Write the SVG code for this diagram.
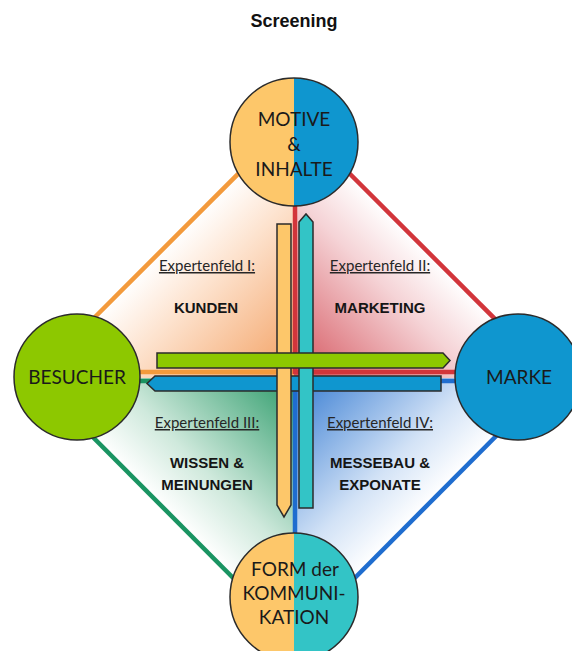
<svg xmlns="http://www.w3.org/2000/svg" width="572" height="651" viewBox="0 0 572 651">
  <style>
    .title { font-family: "Liberation Sans", Arial, sans-serif; font-weight: bold; font-size: 18px; fill: #111; }
    .node { font-family: Lato, "Liberation Sans", sans-serif; font-size: 19px; fill: #1a1a1a; text-anchor: middle; }
    .field { font-family: Lato, "Liberation Sans", sans-serif; font-size: 15px; fill: #262626; text-anchor: middle; text-decoration: underline; }
    .topic { font-family: "Liberation Sans", Arial, sans-serif; font-weight: bold; font-size: 15px; fill: #151515; text-anchor: middle; }
    .ring { fill: none; stroke: #2b2b2b; stroke-width: 1.5; }
    .green-disc { fill: #8dc800; }
    .blue-disc { fill: #0f96cf; }
    .bar { stroke: #2b2b2b; stroke-width: 1.5; stroke-linejoin: miter; }
    .edge { fill: none; stroke-width: 4.5; stroke-linecap: butt; }
  </style>
  <defs>
    <linearGradient id="gOrange" gradientUnits="userSpaceOnUse" x1="164" y1="248" x2="294" y2="378">
      <stop offset="0" stop-color="#ffffff"/>
      <stop offset="0.3" stop-color="#fde3cf"/>
      <stop offset="1" stop-color="#f39f60"/>
    </linearGradient>
    <linearGradient id="gRed" gradientUnits="userSpaceOnUse" x1="424" y1="248" x2="294" y2="378">
      <stop offset="0" stop-color="#ffffff"/>
      <stop offset="0.3" stop-color="#f5d3d6"/>
      <stop offset="1" stop-color="#d4525b"/>
    </linearGradient>
    <linearGradient id="gGreen" gradientUnits="userSpaceOnUse" x1="164" y1="508" x2="294" y2="378">
      <stop offset="0" stop-color="#ffffff"/>
      <stop offset="0.3" stop-color="#cfe9dc"/>
      <stop offset="1" stop-color="#2a9a68"/>
    </linearGradient>
    <linearGradient id="gBlue" gradientUnits="userSpaceOnUse" x1="424" y1="508" x2="294" y2="378">
      <stop offset="0" stop-color="#ffffff"/>
      <stop offset="0.3" stop-color="#d2e2f6"/>
      <stop offset="1" stop-color="#357bd2"/>
    </linearGradient>
  </defs>

  <rect width="572" height="651" fill="#ffffff"/>

  <text class="title" x="294" y="27" text-anchor="middle">Screening</text>

  <!-- quadrant fields -->
  <g id="quadrants">
    <polygon points="294,118 34,378 294,378" fill="url(#gOrange)"/>
    <polygon points="294,118 554,378 294,378" fill="url(#gRed)"/>
    <polygon points="34,378 294,639 294,378" fill="url(#gGreen)"/>
    <polygon points="554,378 294,639 294,378" fill="url(#gBlue)"/>
  </g>

  <!-- connectors: coloured borders of the four fields and the arrows -->
  <g id="connectors">
    <line class="edge" x1="294" y1="118" x2="34" y2="378" stroke="#f39a3c"/>
    <line class="edge" x1="294" y1="118" x2="554" y2="378" stroke="#d2353b"/>
    <line class="edge" x1="34" y1="378" x2="294" y2="639" stroke="#1a9462"/>
    <line class="edge" x1="554" y1="378" x2="294" y2="639" stroke="#1f6dcf"/>
    <line class="edge" x1="34" y1="372" x2="294" y2="372" stroke="#f39a3c"/>
    <line class="edge" x1="294" y1="372" x2="554" y2="372" stroke="#d2353b"/>
    <line class="edge" x1="34" y1="381" x2="294" y2="381" stroke="#1a9462"/>
    <line class="edge" x1="294" y1="381" x2="554" y2="381" stroke="#1f6dcf"/>
    <line class="edge" x1="295" y1="118" x2="295" y2="374" stroke="#d2353b"/>
    <line class="edge" x1="295" y1="379" x2="295" y2="639" stroke="#1f6dcf"/>

    <!-- leftward blue arrow -->
    <polygon class="bar" fill="#0f96cf" points="441,376 441,391 155,391 147,383.5 155,376"/>
    <!-- downward yellow arrow -->
    <polygon class="bar" fill="#fdc76a" points="277,224 291,224 291,505 284,517 277,505"/>
    <!-- upward cyan arrow -->
    <polygon class="bar" fill="#33c4c6" points="299,508 299,222 306,214 313,222 313,508"/>
    <!-- rightward green arrow -->
    <polygon class="bar" fill="#8dc800" points="157,353 443,353 450,360.5 443,368 157,368"/>
  </g>

  <g id="field-1">
    <text class="field" x="207" y="271">Expertenfeld I:</text>
    <text class="topic" x="206" y="313">KUNDEN</text>
  </g>
  <g id="field-2">
    <text class="field" x="380" y="271">Expertenfeld II:</text>
    <text class="topic" x="380" y="313">MARKETING</text>
  </g>
  <g id="field-3">
    <text class="field" x="207" y="428">Expertenfeld III:</text>
    <text class="topic" x="207" y="468">WISSEN &amp;</text>
    <text class="topic" x="207" y="490">MEINUNGEN</text>
  </g>
  <g id="field-4">
    <text class="field" x="380" y="428">Expertenfeld IV:</text>
    <text class="topic" x="380" y="468">MESSEBAU &amp;</text>
    <text class="topic" x="380" y="490">EXPONATE</text>
  </g>

  <g id="motive">
    <path d="M294,78 A64,64 0 0 0 294,206 Z" fill="#fdc76a"/>
    <path d="M294,78 A64,64 0 0 1 294,206 Z" fill="#0f96cf"/>
    <circle class="ring" cx="294" cy="142" r="64"/>
    <text class="node" x="294" y="126">MOTIVE</text>
    <text class="node" x="294" y="151">&amp;</text>
    <text class="node" x="294" y="176">INHALTE</text>
  </g>

  <g id="besucher">
    <circle class="green-disc" cx="77" cy="377" r="63"/>
    <circle class="ring" cx="77" cy="377" r="63"/>
    <text class="node" x="77" y="384">BESUCHER</text>
  </g>

  <g id="marke">
    <circle class="blue-disc" cx="518" cy="377" r="63"/>
    <circle class="ring" cx="518" cy="377" r="63"/>
    <text class="node" x="519" y="384">MARKE</text>
  </g>

  <g id="form">
    <path d="M294,533 A64,64 0 0 0 294,661 Z" fill="#fdc76a"/>
    <path d="M294,533 A64,64 0 0 1 294,661 Z" fill="#33c4c6"/>
    <circle class="ring" cx="294" cy="597" r="64"/>
    <text class="node" x="295" y="576">FORM der</text>
    <text class="node" x="294" y="600">KOMMUNI-</text>
    <text class="node" x="294" y="624">KATION</text>
  </g>
</svg>
